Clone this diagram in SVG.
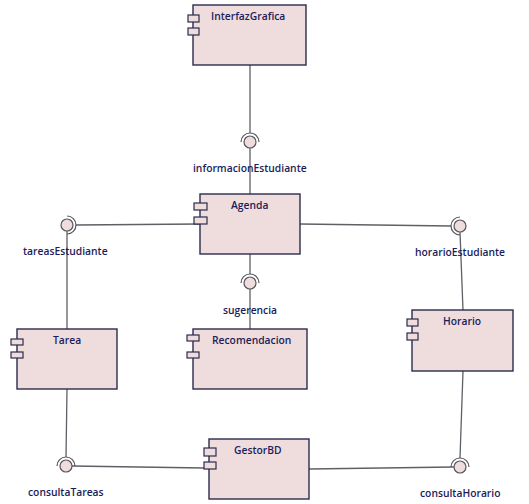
<svg xmlns="http://www.w3.org/2000/svg" width="529" height="504" viewBox="0 0 529 504">
  <style>
    .box { fill: #efdcdc; stroke: #2b2b4e; stroke-width: 1.4; }
    .port { fill: #efdcdc; stroke: #2b2b4e; stroke-width: 1.2; }
    .wire { fill: none; stroke: #5f5f66; stroke-width: 1.3; }
    .ball { fill: #efdcdc; stroke: #55555e; stroke-width: 1.2; }
    .socket { fill: none; stroke: #55555e; stroke-width: 1.2; }
    .lbl { font-family: "Open Sans", "Liberation Sans", sans-serif; font-size: 10.3px; font-weight: 600; fill: #1c1c5a; }
  </style>
  <rect width="529" height="504" fill="#ffffff"/>

  <!-- connectors -->
  <g id="connectors">
    <!-- InterfazGrafica -> informacionEstudiante -> Agenda -->
    <line class="wire" x1="250" y1="65" x2="250" y2="133"/>
    <line class="wire" x1="250" y1="148" x2="250" y2="194"/>
    <!-- Agenda -> tareasEstudiante -> Tarea -->
    <line class="wire" x1="200" y1="224" x2="76" y2="225"/>
    <line class="wire" x1="67" y1="231" x2="67" y2="329"/>
    <!-- Agenda -> horarioEstudiante -> Horario -->
    <line class="wire" x1="300" y1="224" x2="451" y2="226"/>
    <line class="wire" x1="460" y1="232" x2="463" y2="310"/>
    <!-- Agenda -> sugerencia -> Recomendacion -->
    <line class="wire" x1="250" y1="254" x2="250" y2="274"/>
    <line class="wire" x1="250" y1="289" x2="250" y2="329"/>
    <!-- Tarea -> consultaTareas -> GestorBD -->
    <line class="wire" x1="67" y1="389" x2="66" y2="457"/>
    <line class="wire" x1="72" y1="466" x2="204" y2="468"/>
    <!-- Horario -> consultaHorario -> GestorBD -->
    <line class="wire" x1="463" y1="371" x2="460" y2="458"/>
    <line class="wire" x1="309" y1="469" x2="454" y2="467"/>
  </g>

  <!-- interfaces -->
  <g id="informacionEstudiante">
    <circle class="ball" cx="250" cy="142" r="6"/>
    <path class="socket" d="M241,142 A9,9 0 0 1 259,142"/>
    <text class="lbl" x="193" y="172">informacionEstudiante</text>
  </g>
  <g id="tareasEstudiante">
    <circle class="ball" cx="67" cy="225" r="6"/>
    <path class="socket" d="M67,216 A9,9 0 0 1 67,234"/>
    <text class="lbl" x="23" y="255">tareasEstudiante</text>
  </g>
  <g id="horarioEstudiante">
    <circle class="ball" cx="460" cy="226" r="6"/>
    <path class="socket" d="M460,217 A9,9 0 0 0 460,235"/>
    <text class="lbl" x="415" y="256">horarioEstudiante</text>
  </g>
  <g id="sugerencia">
    <circle class="ball" cx="250" cy="283" r="6"/>
    <path class="socket" d="M241,283 A9,9 0 0 1 259,283"/>
    <text class="lbl" x="223" y="314">sugerencia</text>
  </g>
  <g id="consultaTareas">
    <circle class="ball" cx="66" cy="466" r="6"/>
    <path class="socket" d="M57,466 A9,9 0 0 1 75,466"/>
    <text class="lbl" x="28" y="496">consultaTareas</text>
  </g>
  <g id="consultaHorario">
    <circle class="ball" cx="460" cy="467" r="6"/>
    <path class="socket" d="M451,467 A9,9 0 0 1 469,467"/>
    <text class="lbl" x="420" y="497">consultaHorario</text>
  </g>

  <!-- components -->
  <g id="InterfazGrafica">
    <rect class="box" x="193" y="5" width="113" height="60"/>
    <rect class="port" x="188" y="15" width="11" height="7"/>
    <rect class="port" x="188" y="28" width="11" height="7"/>
    <text class="lbl" x="211" y="20">InterfazGrafica</text>
  </g>
  <g id="Agenda">
    <rect class="box" x="200" y="194" width="100" height="60"/>
    <rect class="port" x="194" y="203" width="13" height="7"/>
    <rect class="port" x="194" y="217" width="13" height="7"/>
    <text class="lbl" x="231" y="209">Agenda</text>
  </g>
  <g id="Tarea">
    <rect class="box" x="17" y="329" width="100" height="60"/>
    <rect class="port" x="11" y="339" width="12" height="6"/>
    <rect class="port" x="11" y="352" width="12" height="6"/>
    <text class="lbl" x="53" y="344">Tarea</text>
  </g>
  <g id="Recomendacion">
    <rect class="box" x="193" y="329" width="114" height="60"/>
    <rect class="port" x="187" y="335" width="12" height="6"/>
    <rect class="port" x="187" y="352" width="12" height="6"/>
    <text class="lbl" x="212" y="344">Recomendacion</text>
  </g>
  <g id="Horario">
    <rect class="box" x="412" y="310" width="101" height="61"/>
    <rect class="port" x="407" y="319" width="11" height="7"/>
    <rect class="port" x="407" y="333" width="11" height="7"/>
    <text class="lbl" x="443" y="325">Horario</text>
  </g>
  <g id="GestorBD">
    <rect class="box" x="209" y="439" width="100" height="60"/>
    <rect class="port" x="204" y="448" width="12" height="8"/>
    <rect class="port" x="204" y="462" width="12" height="7"/>
    <text class="lbl" x="234" y="454">GestorBD</text>
  </g>
</svg>
